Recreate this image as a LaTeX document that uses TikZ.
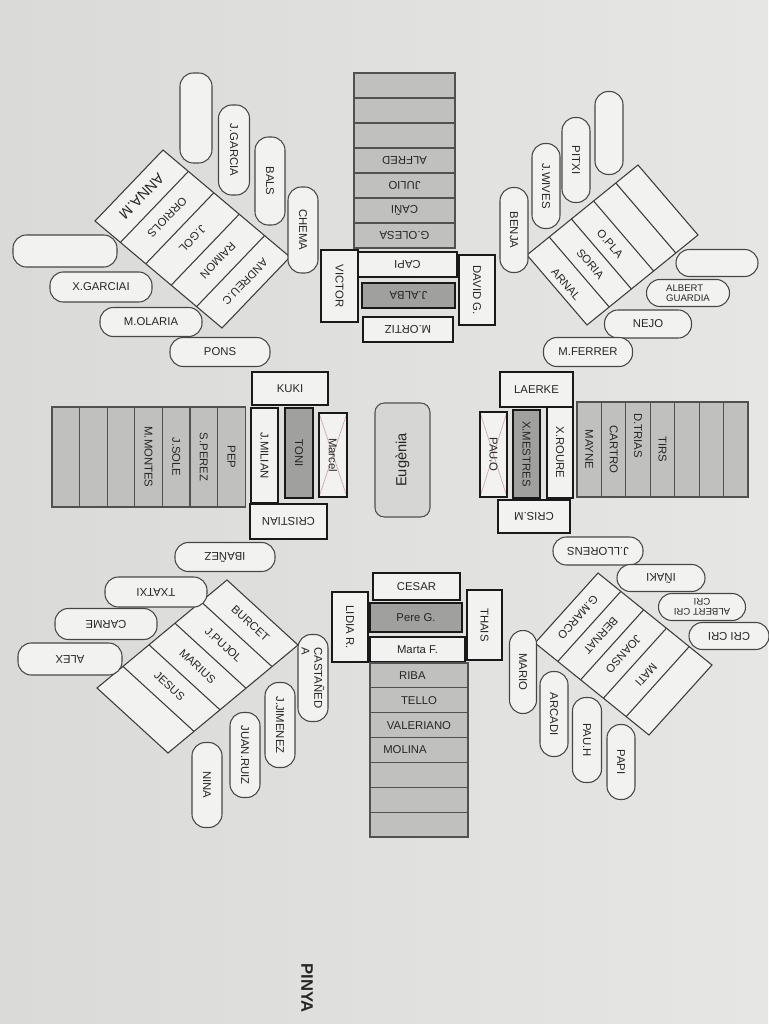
\documentclass[tikz,border=0pt]{standalone}
\usepackage{fontspec}
\setmainfont{Liberation Sans}
\setsansfont{Liberation Sans}
\usetikzlibrary{calc}
\definecolor{paper}{RGB}{232,232,230}
\definecolor{paperL}{RGB}{218,218,216}
\definecolor{paperM}{RGB}{238,238,236}
\definecolor{paperR}{RGB}{230,230,228}
\definecolor{boxw}{RGB}{242,242,240}
\definecolor{cellg}{RGB}{192,192,190}
\definecolor{darkg}{RGB}{160,160,158}
\definecolor{eug}{RGB}{214,214,212}
\definecolor{ink}{RGB}{38,38,38}
\definecolor{xcol}{RGB}{205,170,170}
\begin{document}
\begin{tikzpicture}[x=0.75pt,y=-0.75pt,
  every node/.style={font=\fontsize{8.5}{9.5}\selectfont, text=ink, inner sep=0pt, align=center},
  sz/.style 2 args={minimum width=#1*0.75pt, minimum height=#2*0.75pt},
  pill/.style={draw=ink!85, line width=0.8pt, fill=boxw, rounded corners=10pt},
  tbox/.style={draw=black!90, line width=2.2pt, fill=boxw},
  gbox/.style={draw=black!90, line width=2.2pt, fill=darkg},
  gcell/.style={draw=ink!80, line width=0.9pt, fill=cellg},
  diam/.style={draw=ink!90, line width=0.8pt},
  smallf/.style={font=\fontsize{7.2}{7.8}\selectfont},
  xcross/.style={path picture={\draw[xcol, line width=0.5pt] (path picture bounding box.north west) -- (path picture bounding box.south east) (path picture bounding box.north east) -- (path picture bounding box.south west);}},
]
\shade[left color=paperL, middle color=paperM, right color=paperR] (0,0) rectangle (768,1024);
\useasboundingbox (0,0) rectangle (768,1024);

% ================= top column
\foreach \i/\t in {1/{},2/{},3/{},4/ALFRED,5/JULIO,6/CAÑI,7/G.OLESA}
  \node[gcell, sz={101}{25}, rotate=180] (top\i) at (404.5,{85.5+25*(\i-1)}) {\t};
\node[tbox, sz={99}{25}, rotate=180] (capi) at (407.5,264.5) {CAPI};
\node[gbox, sz={93}{25}, rotate=180] (jalba) at (408.5,295.5) {J.ALBA};
\node[tbox, sz={90}{25}, rotate=180] (mortiz) at (408,329.5) {M.ORTIZ};
\node[tbox, sz={72}{37}, rotate=-90] (victor) at (339.5,286) {VICTOR};
\node[tbox, sz={70}{36}, rotate=-90] (davidg) at (477,290) {DAVID G.};

% ================= top-left diamond
\coordinate (tlT) at (163,150); \coordinate (tlR) at (290,257);
\coordinate (tlB) at (222,328); \coordinate (tlL) at (95,221);
\draw[diam, fill=boxw] (tlT)--(tlR)--(tlB)--(tlL)--cycle;
\foreach \k in {1,...,4} \draw[diam] ($(tlT)!\k/5!(tlR)$) -- ($(tlL)!\k/5!(tlB)$);
\node[rotate=-134, font=\fontsize{11}{12}\selectfont] (annam) at (141.7,196.2) {ANNA.M};
\node[rotate=-134] (orriols) at (167.1,217.6) {ORRIOLS};
\node[rotate=-134] (jgol) at (192.5,239) {J.GOL};
\node[rotate=-134] (raimon) at (217.9,260.4) {RAIMON};
\node[rotate=-134] (andreuc) at (245,281.8) {ANDREU.C};
\node[pill, sz={90}{32}, rotate=-90] (tle1) at (196,118) {};
\node[pill, sz={90}{31}, rotate=-90] (jgarcia) at (234,150) {J.GARCIA};
\node[pill, sz={88}{30}, rotate=-90] (bals) at (270,181) {BALS};
\node[pill, sz={86}{30}, rotate=-90] (chema) at (303,230) {CHEMA};
\node[pill, sz={104}{32}] (tle2) at (65,251) {};
\node[pill, sz={102}{30}] (xgarciai) at (101,287) {X.GARCIAI};
\node[pill, sz={102}{29}] (molaria) at (151,322) {M.OLARIA};
\node[pill, sz={100}{29}] (pons) at (220,352) {PONS};

% ================= top-right diamond
\coordinate (trL) at (527,255); \coordinate (trT) at (638,165);
\coordinate (trR) at (698,235); \coordinate (trB) at (587,325);
\draw[diam, fill=boxw] (trL)--(trT)--(trR)--(trB)--cycle;
\foreach \k in {1,...,4} \draw[diam] ($(trL)!\k/5!(trT)$) -- ($(trB)!\k/5!(trR)$);
\node[rotate=-49] (arnal) at (566,284) {ARNAL};
\node[rotate=-49] (soria) at (590.3,264) {SORIA};
\node[rotate=-49] (opla) at (610,244) {O.PLA};
\node[pill, sz={85}{28}, rotate=-90] (benja) at (514,230) {BENJA};
\node[pill, sz={85}{28}, rotate=-90] (jwives) at (546,186) {J.WIVES};
\node[pill, sz={85}{28}, rotate=-90] (pitxi) at (576,160) {PITXI};
\node[pill, sz={83}{28}, rotate=-90] (tre1) at (609,133) {};
\node[pill, sz={82}{27}] (tre2) at (717,263) {};
\node[pill, sz={83}{27}, smallf, align=left] (albertg) at (688,293) {ALBERT\\GUARDIA};
\node[pill, sz={87}{28}] (nejo) at (648,324) {NEJO};
\node[pill, sz={89}{29}] (mferrer) at (588,352) {M.FERRER};

% ================= left middle
\foreach \i/\t in {1/{},2/{},3/{},4/M.MONTES,5/J.SOLE,6/S.PEREZ,7/PEP}
  \node[gcell, sz={100}{27.6}, rotate=-90] (lc\i) at ({52+27.6*(\i-0.5)},457) {\t};
\node[tbox, sz={76}{33}] (kuki) at (290,388.5) {KUKI};
\node[tbox, sz={95}{27}, rotate=-90] (jmilian) at (264.5,455.5) {J.MILIAN};
\node[gbox, sz={90}{28}, rotate=-90] (toni) at (299,453) {TONI};
\node[tbox, sz={84}{28}, rotate=-90, xcross] (marcel) at (333,455) {Marcel};
\node[tbox, sz={77}{35}, rotate=180] (cristian) at (288.5,521.5) {CRISTIAN};

% ================= centre
\node[draw=ink!80, line width=0.8pt, fill=eug, rounded corners=7pt, sz={114}{55}, rotate=90, font=\fontsize{11}{12}\selectfont] (eugenia) at (402.5,460) {Eugènia};

% ================= right middle
\node[tbox, sz={73}{35}] (laerke) at (536.5,389.5) {LAERKE};
\node[tbox, sz={85}{27}, rotate=-90, xcross] (pauo) at (493.5,454.5) {PAU.O};
\node[gbox, sz={88}{27}, rotate=-90] (xmestres) at (526.5,454) {X.MESTRES};
\node[tbox, sz={91}{26}, rotate=-90] (xroure) at (560,452.5) {X.ROURE};
\foreach \i/\t in {1/MAYNE,2/CARTRO,3/{\hbox{D.TRIAS\hspace{21pt}}},4/TIRS,5/{},6/{},7/{}}
  \node[gcell, sz={95}{24.43}, rotate=-90] (rc\i) at ({577+24.43*(\i-0.5)},449.5) {\t};
\node[tbox, sz={72}{33}, rotate=180] (crism) at (534,516.5) {CRIS.M};

% ================= bottom-left diamond
\coordinate (blT) at (227,580); \coordinate (blR) at (298,645);
\coordinate (blB) at (168,753); \coordinate (blL) at (97,688);
\draw[diam, fill=boxw] (blT)--(blR)--(blB)--(blL)--cycle;
\foreach \k in {1,...,4} \draw[diam] ($(blT)!\k/5!(blL)$) -- ($(blR)!\k/5!(blB)$);
\node[rotate=-42.5] (burcet) at (250.5,623.3) {BURCET};
\node[rotate=-42.5] (jpujol) at (223.5,644.9) {J.PUJOL};
\node[rotate=-42.5] (marius) at (197.5,666.5) {MARIUS};
\node[rotate=-42.5] (jesus) at (169.5,686.1) {JESUS};
\node[pill, sz={100}{29}, rotate=180] (ibanez) at (225,557) {IBAÑEZ};
\node[pill, sz={102}{30}, rotate=180] (txatxi) at (156,592) {TXATXI};
\node[pill, sz={102}{31}, rotate=180] (carme) at (106,624) {CARME};
\node[pill, sz={104}{32}, rotate=180] (alex) at (70,659) {ALEX};
\node[pill, sz={87}{30}, rotate=-90, align=left] (castaneda) at (313,678) {CASTAÑED\\A};
\node[pill, sz={85}{30}, rotate=-90] (jjimenez) at (280,725) {J.JIMENEZ};
\node[pill, sz={85}{30}, rotate=-90] (juanruiz) at (245,755) {JUAN.RUIZ};
\node[pill, sz={85}{30}, rotate=-90] (nina) at (207,785) {NINA};

% ================= bottom column
\node[tbox, sz={87}{27}] (cesar) at (416.5,586.5) {CESAR};
\node[gbox, sz={92}{29}] (pereg) at (416,617.5) {Pere G.};
\node[tbox, sz={95}{25}] (martaf) at (417.5,649.5) {Marta F.};
\node[tbox, sz={70}{36}, rotate=-90] (lidiar) at (350,627) {LIDIA R.};
\node[tbox, sz={70}{35}, rotate=-90] (thais) at (484.5,625) {THAIS};
\foreach \i/\t in {1/{\hbox{RIBA\hspace{10pt}}},2/TELLO,3/VALERIANO,4/{\hbox{MOLINA\hspace{21pt}}},5/{},6/{},7/{}}
  \node[gcell, sz={98}{24.86}] (bot\i) at (419,{663+24.86*(\i-0.5)}) {\t};

% ================= bottom-right diamond
\coordinate (brT) at (598,573); \coordinate (brR) at (712,665);
\coordinate (brB) at (649,735); \coordinate (brL) at (535,643);
\draw[diam, fill=boxw] (brT)--(brR)--(brB)--(brL)--cycle;
\foreach \k in {1,...,4} \draw[diam] ($(brT)!\k/5!(brR)$) -- ($(brL)!\k/5!(brB)$);
\node[rotate=-132] (gmarco) at (577.9,617.2) {G.MARCO};
\node[rotate=-132] (bernat) at (600.7,635.6) {BERNAT};
\node[rotate=-132] (joanso) at (623.5,654) {JOANSO};
\node[rotate=-132] (mati) at (646.3,674.4) {MATI};
\node[pill, sz={90}{28}, rotate=180] (jllorens) at (598,551) {J.LLORENS};
\node[pill, sz={88}{27}, rotate=180] (inaki) at (661,578) {IÑAKI};
\node[pill, sz={87}{27}, rotate=180, smallf] (albertc) at (702,607) {ALBERT CRI\\CRI};
\node[pill, sz={80}{27}, rotate=180] (cricri) at (729,636) {CRI CRI};
\node[pill, sz={83}{27}, rotate=-90] (mario) at (523,672) {MARIO};
\node[pill, sz={85}{28}, rotate=-90] (arcadi) at (554,714) {ARCADI};
\node[pill, sz={85}{29}, rotate=-90] (pauh) at (587,740) {PAU.H};
\node[pill, sz={75}{28}, rotate=-90] (papi) at (621,762) {PAPI};

% ================= title fragment
\node[rotate=-90, anchor=west, font=\bfseries\fontsize{12.5}{13}\selectfont] (pinya) at (307,963) {PINYA};
\end{tikzpicture}
\end{document}
